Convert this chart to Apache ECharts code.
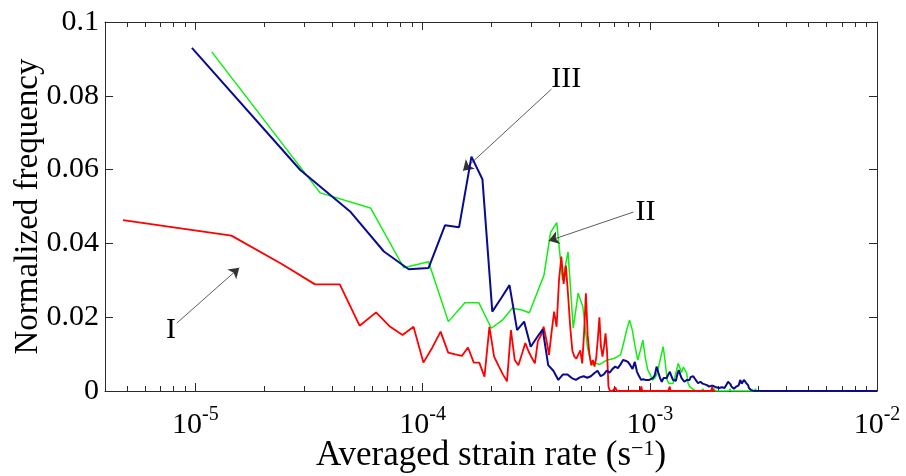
<!DOCTYPE html>
<html><head><meta charset="utf-8">
<script src="https://cdn.jsdelivr.net/npm/echarts@6.0.0/dist/echarts.min.js"></script>
<style>html,body{margin:0;padding:0;background:#fff}#c{width:906px;height:476px}</style>
</head><body><div id="c"></div>
<script>
// Histogram bin widths (s^-1) of the three curves
const redBinWidth = 9.6e-6;
const greenBinWidth = 2.36e-5;
const blueBinWidth = 1.93e-5;

// Curve I (red)
const redFreq = [
0.0463,0.0421,0.0344,0.0289,0.0289,0.0177,0.0213,0.0174,0.0152,0.0174,
0.0077,0.0118,0.0161,0.0104,0.0099,0.0095,0.0118,0.0077,0.0077,0.0039,
0.0174,0.0093,0.0068,0.0045,0.0026,0.0165,0.0084,0.0070,0.0100,0.0130,
0.0107,0.0090,0.0075,0.0135,0.0150,0.0174,0.0140,0.0098,0.0160,0.0215,
0.0174,0.0300,0.0364,0.0290,0.0340,0.0260,0.0174,0.0110,0.0093,0.0088,
0.0084,0.0110,0.0075,0.0156,0.0265,0.0150,0.0100,0.0070,0.0084,0.0066,
0.0090,0.0140,0.0200,0.0120,0.0093,0.0120,0.0156,0.0110,0.0012,0,
0,0,0,0.0010,0,0,0,0,0,0,
0,0,0,0,0,0,0,0,0,0,
0,0,0,0,0,0.0012,0,0,0,0,
0,0,0,0,0,0,0,0,0,0,
0,0,0,0,0,0,0,0,0,0,
0,0,0,0,0,0,0,0.0012,0,0,
0,0,0,0,0,0,0,0,0,0,
0,0,0,0,0,0,0,0,0,0,
0,0,0,0,0,0,0,0,0,0,
0,0,0,0,0,0,0,0,0,0,
0,0,0,0,0,0,0,0,0,0,
0,0,0,0,0,0,0,0,0,0,
0,0,0,0,0,0,0.0012,0,0,0,
0,0,0
];

// Curve II (green)
const greenFreq = [
0.0919,0.0537,0.0496,0.0334,0.0350,0.0188,0.0239,0.0239,0.0170,0.0192,
0.0224,0.0220,0.0212,0.0265,0.0314,0.0430,0.0456,0.0300,0.0377,0.0170,
0.0265,0.0228,0.0120,0.0070,0.0075,0.0072,0.0078,0.0084,0.0086,0.0088,
0.0093,0.0098,0.0130,0.0165,0.0192,0.0165,0.0120,0.0084,0.0110,0.0138,
0.0090,0.0057,0.0045,0.0030,0.0035,0.0045,0.0070,0.0095,0.0120,0.0080,
0.0030,0.0020,0.0025,0.0020,0.0035,0.0055,0.0075,0.0070,0.0050,0.0065,
0.0068,0.0050,0.0020,0.0012,0.0008,0.0005,0,0,0,0,
0,0,0.0006,0,0,0,0,0,0,0,
0,0.0006,0,0,0,0,0,0,0,0,
0,0,0,0,0,0.0006,0,0,0,0,
0,0,0,0,0,0,0,0,0,0,
0,0,0,0,0,0,0,0,0,0,
0,0,0,0.0006,0,0,0,0,0,0,
0
];

// Curve III (blue)
const blueFreq = [
0.0930,0.0599,0.0485,0.0378,0.0330,0.0333,0.0449,0.0444,0.0635,0.0574,
0.0215,0.0252,0.0287,0.0165,0.0188,0.0120,0.0145,0.0167,0.0070,0.0055,
0.0030,0.0045,0.0045,0.0035,0.0030,0.0037,0.0040,0.0036,0.0040,0.0048,
0.0055,0.0040,0.0045,0.0055,0.0050,0.0060,0.0066,0.0062,0.0072,0.0084,
0.0082,0.0079,0.0070,0.0060,0.0079,0.0052,0.0040,0.0030,0.0032,0.0030,
0.0032,0.0030,0.0028,0.0035,0.0043,0.0066,0.0050,0.0035,0.0025,0.0035,
0.0040,0.0035,0.0045,0.0052,0.0040,0.0030,0.0025,0.0028,0.0045,0.0057,
0.0045,0.0035,0.0030,0.0025,0.0025,0.0030,0.0032,0.0030,0.0038,0.0043,
0.0040,0.0035,0.0030,0.0025,0.0021,0.0022,0.0025,0.0022,0.0020,0.0021,
0.0018,0.0016,0.0016,0.0014,0.0012,0.0012,0.0014,0.0016,0.0014,0.0016,
0.0012,0.0010,0.0008,0.0006,0.0008,0.0005,0.0008,0.0010,0.0012,0.0010,
0.0008,0.0012,0.0016,0.0020,0.0025,0.0030,0.0025,0.0018,0.0012,0.0008,
0.0007,0.0006,0.0008,0.0010,0.0012,0.0010,0.0012,0.0015,0.0020,0.0030,
0.0025,0.0020,0.0018,0.0022,0.0030,0.0025,0.0030,0.0022,0.0020,0.0025,
0.0015,0.0008,0.0006,0.0004,0.0003,0.0002,0.0002,0.0001,0,0,
0
];
const blueTail = [[1e-2, 0]];

// Axes
const xMin = 4e-6, xMax = 1e-2;
const yMin = 0, yMax = 0.1, yStep = 0.02;
const yTickLabels = ['0', '0.02', '0.04', '0.06', '0.08', '0.1'];
const minorMantissas = [2, 3, 4, 5, 6, 7, 8, 9];
const minorDecades = [-6, -5, -4, -3];

// Annotations [x, y] in data units
const annotations = [
  { label: 'I',   text: [7.81e-6, 0.0164], tail: [8.28e-6, 0.0184], head: [1.56e-5, 0.0334] },
  { label: 'II',  text: [9.57e-4, 0.0485], tail: [8.47e-4, 0.0485], head: [3.59e-4, 0.0407] },
  { label: 'III', text: [4.29e-4, 0.0846], tail: [3.69e-4, 0.0818], head: [1.506e-4, 0.0597] }
];

const FONT = "'Liberation Serif', 'Times New Roman', serif";
const AXC = '#2a2a2a';

const toPairs = (arr, w) => arr.map((v, k) => [(k + 0.5) * w, v]);

const minorLogs = [];
minorDecades.forEach(d => minorMantissas.forEach(m => {
  const v = m * Math.pow(10, d);
  if (v > xMin * 0.999 && v < xMax) minorLogs.push(Math.log10(v));
}));

const expLabel = v => {
  const e = Math.round(Math.log10(v));
  return '{b|10}{e|' + (e < 0 ? '-' + (-e) : String(e)) + '}';
};

const chart = echarts.init(document.getElementById('c'), null, { renderer: 'canvas' });
const baseLog = (pos, withLabels) => ({
  type: 'log', logBase: 10, min: xMin, max: xMax, position: pos, gridIndex: 0,
  nameMoveOverlap: false,
  axisLine: { show: true, onZero: false, lineStyle: { color: AXC, width: 1 } },
  axisTick: { show: true, inside: true, length: 8, lineStyle: { color: AXC, width: 1 } },
  splitLine: { show: false }, minorTick: { show: false },
  axisLabel: withLabels ? {
    show: true, showMinLabel: false, showMaxLabel: true, margin: 14,
    formatter: expLabel,
    rich: {
      b: { fontSize: 30, fontFamily: FONT, color: '#000', lineHeight: 32, padding: [8, 0, 0, 0] },
      e: { fontSize: 20, fontFamily: FONT, color: '#000', lineHeight: 20, verticalAlign: 'top' }
    }
  } : { show: false }
});
const minorAxis = pos => ({
  type: 'value', min: Math.log10(xMin), max: Math.log10(xMax), position: pos, gridIndex: 0,
  axisLine: { show: false, onZero: false },
  axisTick: { show: true, inside: true, length: 5, customValues: minorLogs, lineStyle: { color: AXC, width: 1 } },
  axisLabel: { show: false }, splitLine: { show: false }
});

const xMain = baseLog('bottom', true);
xMain.name = '{n|Averaged strain rate (s}{e|\u22121}{n|)}';
xMain.nameLocation = 'middle';
xMain.nameGap = 47;
xMain.nameTextStyle = {
  rich: {
    n: { fontSize: 35, fontFamily: FONT, color: '#000', lineHeight: 36 },
    e: { fontSize: 22, fontFamily: FONT, color: '#000', lineHeight: 22, verticalAlign: 'top' }
  }
};

const yBase = (pos, withLabels) => ({
  type: 'value', min: yMin, max: yMax, interval: yStep, position: pos, gridIndex: 0,
  nameMoveOverlap: false,
  axisLine: { show: true, onZero: false, lineStyle: { color: AXC, width: 1 } },
  axisTick: { show: true, inside: true, length: 8, lineStyle: { color: AXC, width: 1 } },
  splitLine: { show: false },
  axisLabel: withLabels ? {
    show: true, margin: 6, fontSize: 30, fontFamily: FONT, color: '#000',
    formatter: v => yTickLabels[Math.round((v - yMin) / yStep)]
  } : { show: false }
});
const yMain = yBase('left', true);
yMain.name = 'Normalized frequency';
yMain.nameLocation = 'middle';
yMain.nameGap = 60;
yMain.nameTextStyle = { fontSize: 33, fontFamily: FONT, color: '#000' };

const lineSeries = (name, data, color, width, z) => ({
  name, type: 'line', data, xAxisIndex: 0, yAxisIndex: 0, showSymbol: false, symbol: 'none',
  lineStyle: { color, width }, itemStyle: { color }, z, animation: false, silent: true
});

const blueSeries = lineSeries('III', toPairs(blueFreq, blueBinWidth).concat(blueTail), '#0b0b8e', 2, 5);
blueSeries.markLine = {
  silent: true, animation: false, symbol: ['none', 'arrow'], symbolSize: 10,
  label: { show: false },
  lineStyle: { color: '#333', width: 0.8, type: 'solid' },
  emphasis: { disabled: true },
  data: annotations.map(a => [{ coord: a.tail }, { coord: a.head }])
};
blueSeries.markPoint = {
  silent: true, animation: false, symbol: 'rect', symbolSize: 1,
  itemStyle: { color: 'rgba(0,0,0,0)' },
  label: { show: true, position: 'inside', formatter: p => p.name, fontSize: 30, fontFamily: FONT, color: '#000' },
  data: annotations.map(a => ({ name: a.label, coord: a.text }))
};

chart.setOption({
  animation: false,
  backgroundColor: '#fff',
  grid: { left: 105, right: 29, top: 22, bottom: 85, containLabel: false, outerBoundsMode: 'none' },
  xAxis: [xMain, minorAxis('bottom'), baseLog('top', false), minorAxis('top')],
  yAxis: [yMain, yBase('right', false)],
  series: [
    lineSeries('II', toPairs(greenFreq, greenBinWidth), '#11ee11', 1.5, 3),
    lineSeries('I', toPairs(redFreq, redBinWidth), '#ff0000', 1.8, 4),
    blueSeries
  ]
});
</script></body></html>
